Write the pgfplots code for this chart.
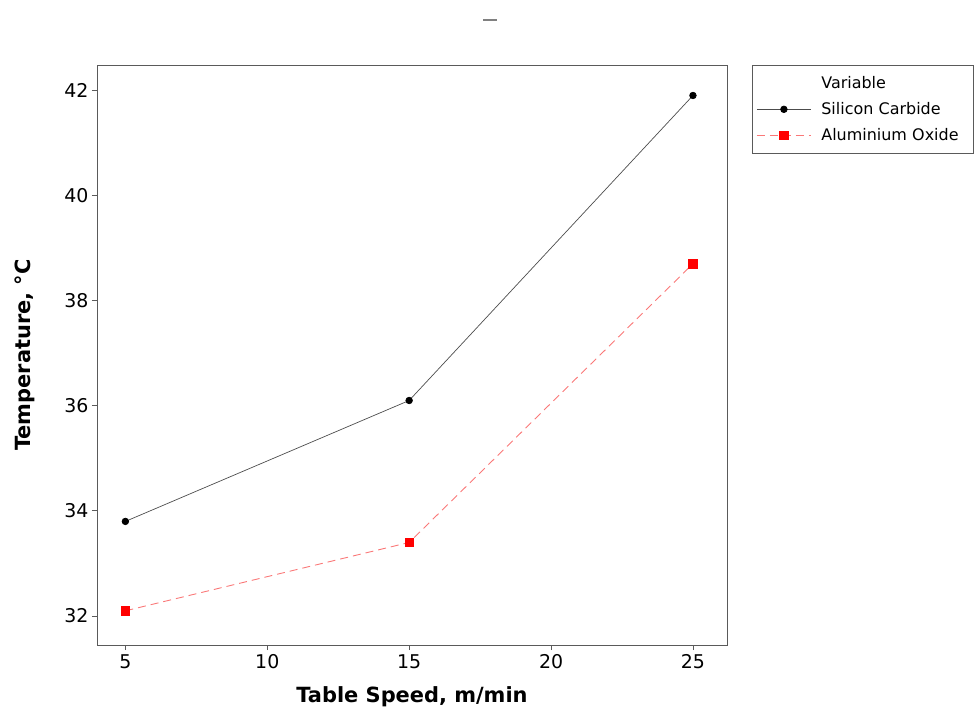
\documentclass[border=0pt]{standalone}
\usepackage{pgfplots}
\pgfplotsset{compat=1.18}
\usepackage{fontspec}
\setmainfont{DejaVu Sans}
\definecolor{framegray}{RGB}{90,90,90}
\definecolor{salmonline}{RGB}{250,120,120}
\begin{document}
\begin{tikzpicture}
\path[use as bounding box] (-97bp,-73bp) rectangle (879bp,645bp);
\begin{axis}[
  at={(0,0)}, anchor=south west,
  scale only axis,
  width=630bp, height=580bp,
  xmin=4, xmax=26.2,
  ymin=31.45, ymax=42.48,
  xtick={5,10,15,20,25},
  ytick={32,34,36,38,40,42},
  tick align=outside,
  major tick length=5bp,
  xtick pos=bottom, ytick pos=left,
  axis line style={framegray, line width=0.9pt},
  tick style={framegray, line width=0.9pt},
  /pgf/number format/assume math mode=true,
  ticklabel style={font=\fontsize{19}{22}\selectfont},
  xticklabel style={yshift=-1bp},
  xlabel={\textbf{Table Speed, m/min}},
  ylabel={\textbf{Temperature, °C}},
  every axis x label/.style={at={(rel axis cs:0.5,-0.0897)}, anchor=center,
    font=\fontsize{21}{24}\selectfont},
  every axis y label/.style={at={(rel axis cs:-0.114,0.5)}, anchor=center, rotate=90,
    font=\fontsize{21}{24}\selectfont},
  title={\textcolor{gray}{\rule[0pt]{14bp}{2.5bp}}},
  every axis title/.style={at={(rel axis cs:0.624,1)}, anchor=center, yshift=45bp},
  legend style={
    at={(1.0397,1)}, anchor=north west,
    draw=framegray, line width=0.9pt,
    font=\fontsize{16}{19}\selectfont,
    legend cell align=left,
    inner xsep=4bp, inner ysep=9bp,
    row sep=8.5bp,
    text width=146bp,
  },
  legend image code/.code={
    \draw[mark repeat=2, mark phase=2, #1] plot coordinates {(0bp,0bp) (27bp,0bp) (54bp,0bp)};
    \path (62bp,0bp);
  },
  clip=false,
]
\addlegendimage{empty legend}
\addlegendentry{Variable}
\addplot[black!70, line width=0.7pt, mark=*, mark size=3.3bp,
  mark options={fill=black, draw=black, solid}]
  coordinates {(5,33.8) (15,36.1) (25,41.9)};
\addlegendentry{Silicon Carbide}
\addplot[salmonline, line width=0.9pt, dash pattern=on 8bp off 5bp,
  mark=square*, mark size=4.2bp,
  mark options={fill=red, draw=red, solid}]
  coordinates {(5,32.1) (15,33.4) (25,38.7)};
\addlegendentry{Aluminium Oxide}
\end{axis}
\end{tikzpicture}
\end{document}
